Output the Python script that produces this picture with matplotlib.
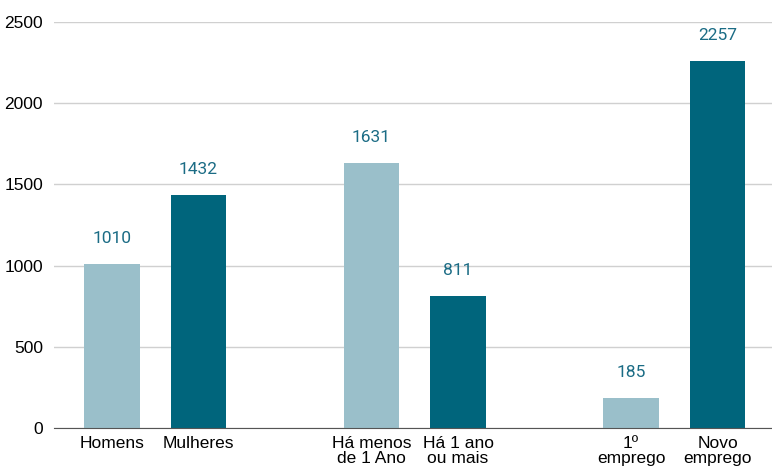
import matplotlib.pyplot as plt

categorias = ['Homens', 'Mulheres', 'Há menos\nde 1 Ano', 'Há 1 ano\nou mais', '1º\nemprego', 'Novo\nemprego']
valores = [1010, 1432, 1631, 811, 185, 2257]
posicoes = [0, 1, 3, 4, 6, 7]
cores = ['#9abfca', '#00657c', '#9abfca', '#00657c', '#9abfca', '#00657c']

fig = plt.figure(figsize=(7.72, 4.66), dpi=100)
ax = fig.add_axes([0.07, 0.0815, 0.93, 0.8713])

ax.bar(posicoes, valores, width=0.64, color=cores, zorder=3)

for x, v in zip(posicoes, valores):
    ax.annotate(str(v), xy=(x, v), xytext=(0, 13), textcoords='offset points',
                ha='center', va='bottom', color='#1b6c85', fontsize=12.5, family='Roboto')

ax.set_xlim(-0.67, 7.63)
ax.set_ylim(0, 2500)
ax.set_yticks([0, 500, 1000, 1500, 2000, 2500])
ax.set_xticks(posicoes)
ax.set_xticklabels(categorias, fontsize=12.5, family='Liberation Sans', linespacing=1.0)
ax.tick_params(axis='y', labelsize=12.5, length=0, pad=8)
ax.tick_params(axis='x', length=0, pad=6)
for lbl in ax.get_yticklabels():
    lbl.set_family('Liberation Sans')

ax.grid(axis='y', color='#d0d0d0', linewidth=1, zorder=0)
for s in ['top', 'right', 'left']:
    ax.spines[s].set_visible(False)
ax.spines['bottom'].set_color('#555555')
ax.spines['bottom'].set_zorder(4)

fig.savefig('out.png', dpi=100)
